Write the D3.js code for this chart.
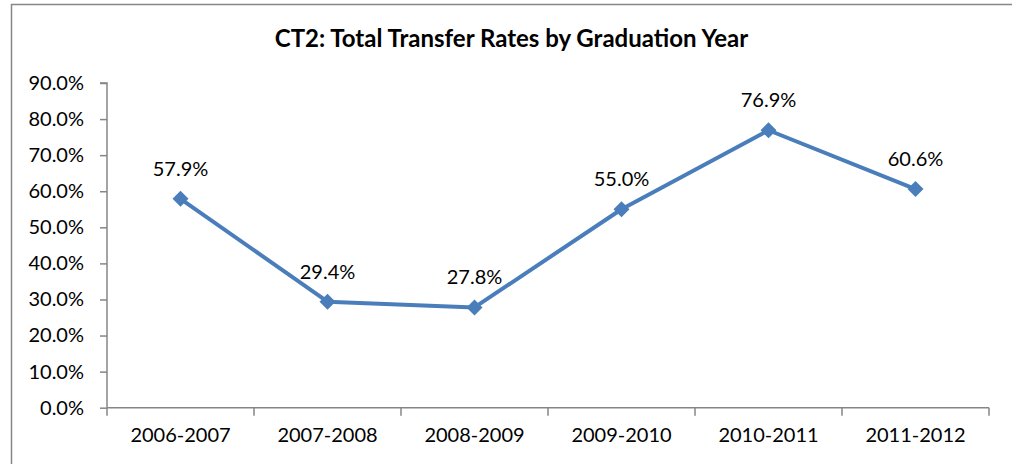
<!DOCTYPE html>
<html><head><meta charset="utf-8">
<script src="https://cdn.jsdelivr.net/npm/d3@7"></script>
<style>html,body{margin:0;background:#fff;overflow:hidden}svg{display:block}text{font-family:Lato,"Open Sans",sans-serif}</style>
</head><body>
<svg id="c" width="1012" height="464"></svg>
<script>
const categories = ["2006-2007","2007-2008","2008-2009","2009-2010","2010-2011","2011-2012"];
const values = [57.9, 29.4, 27.8, 55.0, 76.9, 60.6];
const yTicks = [0,10,20,30,40,50,60,70,80,90];
const title = "CT2: Total Transfer Rates by Graduation Year";

const svg = d3.select("#c");
svg.append("path").attr("d","M11.5,464V4.5H1012")
  .attr("fill","none").attr("stroke","#868686").attr("stroke-width",1.5);

const L=107, R=989, T=83, B=407.7;
const x = d3.scaleBand().domain(categories).range([L,R]);
const y = d3.scaleLinear().domain([0,90]).range([B,T]);

svg.append("text").attr("x",511.5).attr("y",47).attr("text-anchor","middle")
  .attr("font-weight","bold").attr("font-size",24).attr("fill","#000").text(title);

const ya = svg.append("g").attr("transform",`translate(${L},0)`)
  .call(d3.axisLeft(y).tickValues(yTicks).tickSize(7).tickPadding(16).tickFormat(d=>d.toFixed(1)+"%"));
ya.selectAll("path,line").attr("stroke","#868686").attr("stroke-width",1.5);
ya.select(".domain").attr("d",`M-7,${T}H0V${B}`);
ya.selectAll("text").attr("font-size",20).attr("fill","#000").attr("font-family","Lato,sans-serif");

const xa = svg.append("g").attr("transform",`translate(0,${B})`)
  .call(d3.axisBottom(x).tickSize(0).tickPadding(20));
xa.select(".domain").attr("stroke","#868686").attr("stroke-width",1.5).attr("d",`M${L},0H${R}`);
xa.selectAll("text").attr("font-size",20).attr("fill","#000").attr("font-family","Lato,sans-serif");
const bounds = categories.map(c=>x(c)).concat([R]);
svg.append("g").selectAll("line").data(bounds).join("line")
  .attr("x1",d=>d).attr("x2",d=>d).attr("y1",B).attr("y2",B+8)
  .attr("stroke","#868686").attr("stroke-width",1.5);

const cx = (d,i)=>x(categories[i])+x.bandwidth()/2;
const line = d3.line().x((d,i)=>cx(d,i)).y(d=>y(d));
svg.append("path").datum(values).attr("d",line).attr("fill","none")
  .attr("stroke","#4A7EBB").attr("stroke-width",4).attr("stroke-linejoin","round");

svg.append("g").selectAll("path").data(values).join("path")
  .attr("transform",(d,i)=>`translate(${cx(d,i)},${y(d)})`)
  .attr("d","M0,-8L8,0L0,8L-8,0Z").attr("fill","#4A7EBB");

svg.append("g").selectAll("text").data(values).join("text")
  .attr("x",(d,i)=>cx(d,i)).attr("y",d=>y(d)-23).attr("text-anchor","middle")
  .attr("font-size",20).attr("fill","#000").text(d=>d.toFixed(1)+"%");
</script>
</body></html>
